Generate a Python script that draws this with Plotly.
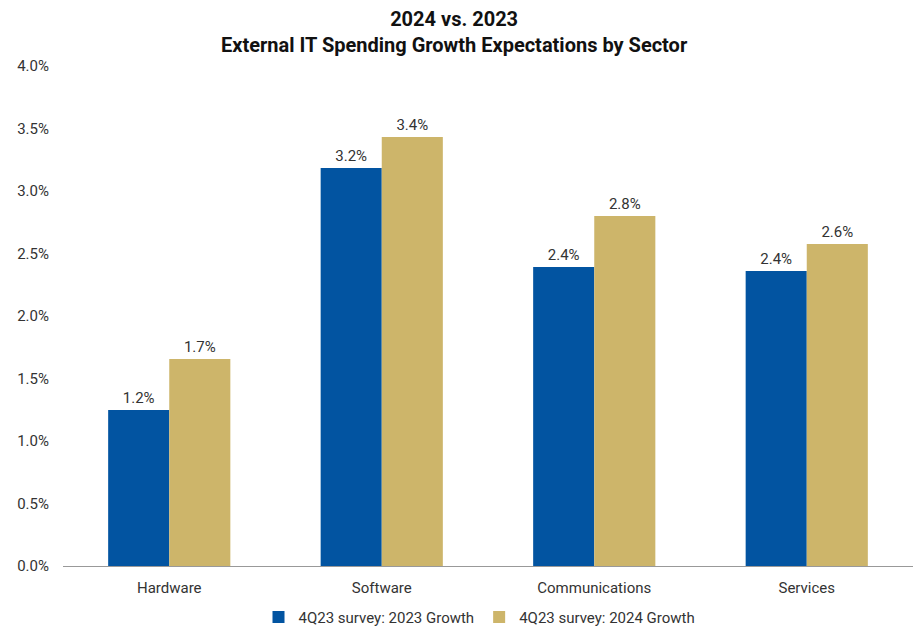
import plotly.graph_objects as go

# Survey results: expected external IT spending growth by sector (%)
sectors = ["Hardware", "Software", "Communications", "Services"]
growth_2023 = [1.248, 3.184, 2.392, 2.36]
growth_2024 = [1.656, 3.432, 2.80, 2.576]
series_names = ["4Q23 survey: 2023 Growth", "4Q23 survey: 2024 Growth"]
y_ticks = [0, 0.5, 1.0, 1.5, 2.0, 2.5, 3.0, 3.5, 4.0]

BLUE = "#0254a1"
GOLD = "#cdb56a"
FONT = "Roboto"
TEXT = "#333333"

fig = go.Figure()
for name, vals, color in zip(series_names, [growth_2023, growth_2024], [BLUE, GOLD]):
    fig.add_trace(go.Bar(
        x=sectors, y=vals, name=name,
        marker=dict(color=color, line=dict(width=0)),
        texttemplate="%{y:.1f}%", textposition="outside",
        textfont=dict(family=FONT, size=15, color=TEXT),
        cliponaxis=False,
    ))

fig.update_layout(
    width=917, height=628,
    margin=dict(l=63, r=4, t=66, b=62, autoexpand=False),
    paper_bgcolor="white", plot_bgcolor="white",
    barmode="group", bargap=0.425, bargroupgap=0,
    font=dict(family=FONT, size=15, color=TEXT),
    legend=dict(
        orientation="h", x=0.49, xanchor="center",
        yref="container", y=0.017, yanchor="middle",
        font=dict(family=FONT, size=15, color=TEXT),
        itemwidth=30, traceorder="normal",
    ),
    annotations=[dict(
        text="<b>2024 vs. 2023</b><br><b>External IT Spending Growth Expectations by Sector</b>",
        xref="paper", yref="paper", x=0.46, y=1 + 61 / 500,
        xanchor="center", yanchor="top", showarrow=False,
        font=dict(family=FONT, size=20, color="#111111"),
    )],
)
fig.update_yaxes(
    range=[0, 4], tickvals=y_ticks, ticktext=[f"{v:.1f}%" for v in y_ticks],
    showgrid=False, zeroline=False, showline=False,
    ticks="outside", ticklen=10, tickcolor="white",
    tickfont=dict(family=FONT, size=15, color=TEXT),
)
fig.update_xaxes(
    showgrid=False, showline=True, linecolor="#999999", linewidth=1,
    ticks="outside", ticklen=8, tickcolor="white",
    tickfont=dict(family=FONT, size=15, color=TEXT),
)

fig.write_html("out.html")
